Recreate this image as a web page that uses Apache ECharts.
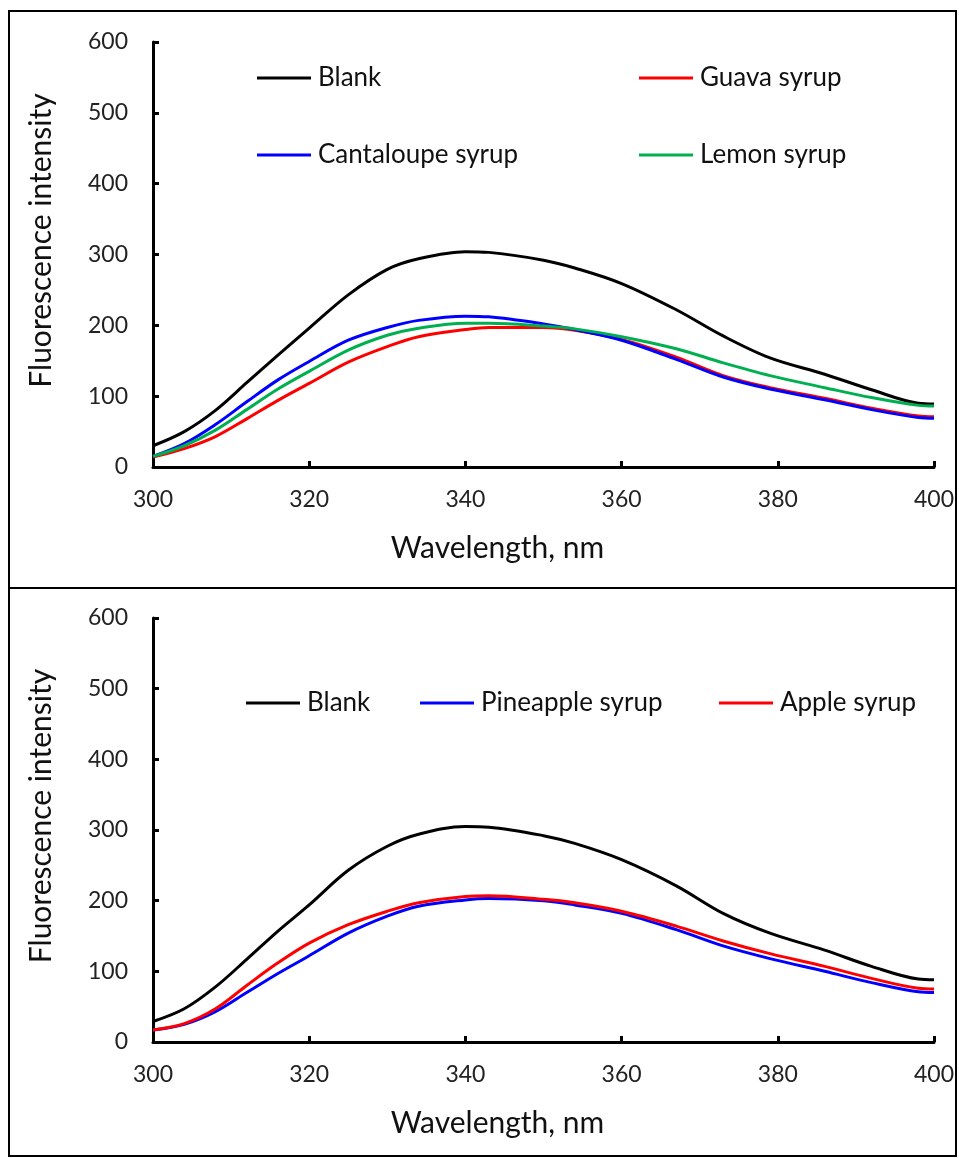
<!DOCTYPE html>
<html>
<head>
<meta charset="utf-8">
<script src="https://cdn.jsdelivr.net/npm/echarts@6/dist/echarts.min.js"></script>
<style>
  html, body { margin: 0; padding: 0; background: #fff; }
  #main { width: 959px; height: 1158px; }
</style>
</head>
<body>
<div id="main"></div>
<script>
// wavelength samples (nm)
var wavelengths = [300, 304, 308, 312, 316, 320, 325, 330, 334, 340, 343, 350, 354, 360, 367, 373, 379, 386, 392, 398, 400]

// top panel
var blankTop   = [30, 50, 80, 119, 158, 196, 243, 279, 294, 304, 303, 292, 281, 259, 222, 185, 154, 131, 109, 90, 89]
var cantaloupe = [15, 33, 60, 92, 123, 149, 179, 197, 207, 213, 212, 202, 194, 179, 152, 127, 110, 95, 81, 70, 69]
var guava      = [14, 26, 43, 68, 94, 118, 148, 170, 184, 194, 197, 197, 193, 180, 155, 129, 112, 97, 83, 72, 71]
var lemon      = [15, 30, 52, 81, 110, 135, 165, 186, 196, 203, 203, 199, 195, 184, 167, 147, 129, 112, 98, 87, 86]

// bottom panel
var blankBottom = [29, 47, 78, 117, 157, 194, 243, 277, 294, 305, 304, 292, 281, 258, 221, 182, 154, 130, 107, 89, 88]
var pineapple   = [17, 25, 43, 70, 97, 122, 154, 178, 192, 201, 203, 200, 194, 182, 159, 136, 118, 100, 84, 71, 70]
var apple       = [17, 26, 47, 80, 112, 140, 166, 185, 197, 206, 207, 202, 197, 185, 164, 143, 125, 107, 90, 76, 75]

var xTicks = [300, 320, 340, 360, 380, 400]
var yTicks = [0, 100, 200, 300, 400, 500, 600]

var FONT = 'Lato'

function pairs(vals) {
    var out = []
    for (let i = 0; i < wavelengths.length; i++) {
        out.push([wavelengths[i], vals[i]])
    }
    return out
}

function mkSeries(name, vals, color, idx) {
    return {
        name: name,
        type: 'line',
        xAxisIndex: idx,
        yAxisIndex: idx,
        smooth: 0.35,
        showSymbol: false,
        data: pairs(vals),
        itemStyle: { color: color },
        lineStyle: { color: color, width: 3 }
    }
}

function mkLegend(name, left, cy) {
    return {
        data: [name],
        left: left,
        top: cy - 16,
        padding: 0,
        icon: 'rect',
        itemWidth: 54,
        itemHeight: 3,
        selectedMode: false,
        textStyle: { fontFamily: FONT, fontSize: 26, color: '#111', lineHeight: 32, padding: [0, 0, 0, 2] }
    }
}

function mkX(idx) {
    return {
        type: 'value',
        gridIndex: idx,
        min: 300,
        max: 400,
        interval: 20,
        name: 'Wavelength, nm',
        nameLocation: 'middle',
        nameGap: 66,
        nameTextStyle: { fontFamily: FONT, fontSize: 30, color: '#111', padding: [0, 92, 0, 0] },
        axisLine: { show: true, lineStyle: { color: '#000', width: 3 } },
        axisTick: { show: true, inside: true, length: 6, lineStyle: { color: '#000', width: 3 } },
        axisLabel: {
            fontFamily: FONT, fontSize: 23, color: '#222', margin: 21,
            formatter: function (v) { return xTicks.indexOf(v) >= 0 ? String(v) : '' }
        },
        splitLine: { show: false }
    }
}

function mkY(idx) {
    return {
        type: 'value',
        gridIndex: idx,
        min: 0,
        max: 600,
        interval: 100,
        name: 'Fluorescence intensity',
        nameLocation: 'middle',
        nameGap: 97,
        nameTextStyle: { fontFamily: FONT, fontSize: 30, color: '#111', padding: [0, 0, 0, 28] },
        axisLine: { show: true, lineStyle: { color: '#000', width: 3 } },
        axisTick: { show: true, inside: true, length: 6, lineStyle: { color: '#000', width: 3 } },
        axisLabel: {
            fontFamily: FONT, fontSize: 23, color: '#222', margin: 25,
            formatter: function (v) { return yTicks.indexOf(v) >= 0 ? String(v) : '' }
        },
        splitLine: { show: false }
    }
}

var chart = echarts.init(document.getElementById('main'), null, { renderer: 'canvas' })

var option = {
    backgroundColor: '#fff',
    animation: false,
    grid: [
        { left: 153, top: 42, width: 781, height: 425 },
        { left: 153, top: 618, width: 781, height: 424 }
    ],
    xAxis: [mkX(0), mkX(1)],
    yAxis: [mkY(0), mkY(1)],
    legend: [
        mkLegend('Blank', 257, 78),
        mkLegend('Cantaloupe syrup', 257, 155),
        mkLegend('Guava syrup', 639, 78),
        mkLegend('Lemon syrup', 639, 155),
        mkLegend('Pineapple syrup', 420, 703),
        mkLegend('Apple syrup', 719, 703)
    ],
    graphic: [
        {
            type: 'rect',
            shape: { x: 9, y: 11, width: 947, height: 1145 },
            style: { fill: 'none', stroke: '#000', lineWidth: 2 },
            silent: true
        },
        {
            type: 'line',
            shape: { x1: 9, y1: 588, x2: 956, y2: 588 },
            style: { stroke: '#000', lineWidth: 2 },
            silent: true
        }
    ],
    series: [
        mkSeries('Blank', blankTop, '#000000', 0),
        mkSeries('Guava syrup', guava, '#ff0000', 0),
        mkSeries('Cantaloupe syrup', cantaloupe, '#0000ff', 0),
        mkSeries('Lemon syrup', lemon, '#00b050', 0),
        mkSeries('Blank ', blankBottom, '#000000', 1),
        mkSeries('Pineapple syrup', pineapple, '#0000ff', 1),
        mkSeries('Apple syrup', apple, '#ff0000', 1)
    ]
}
// bottom "Blank" legend entry points at the bottom black series
option.legend.push(mkLegend('Blank ', 246, 703))
option.legend[option.legend.length - 1].formatter = function (n) { return n.trim() }

chart.setOption(option)
</script>
</body>
</html>
